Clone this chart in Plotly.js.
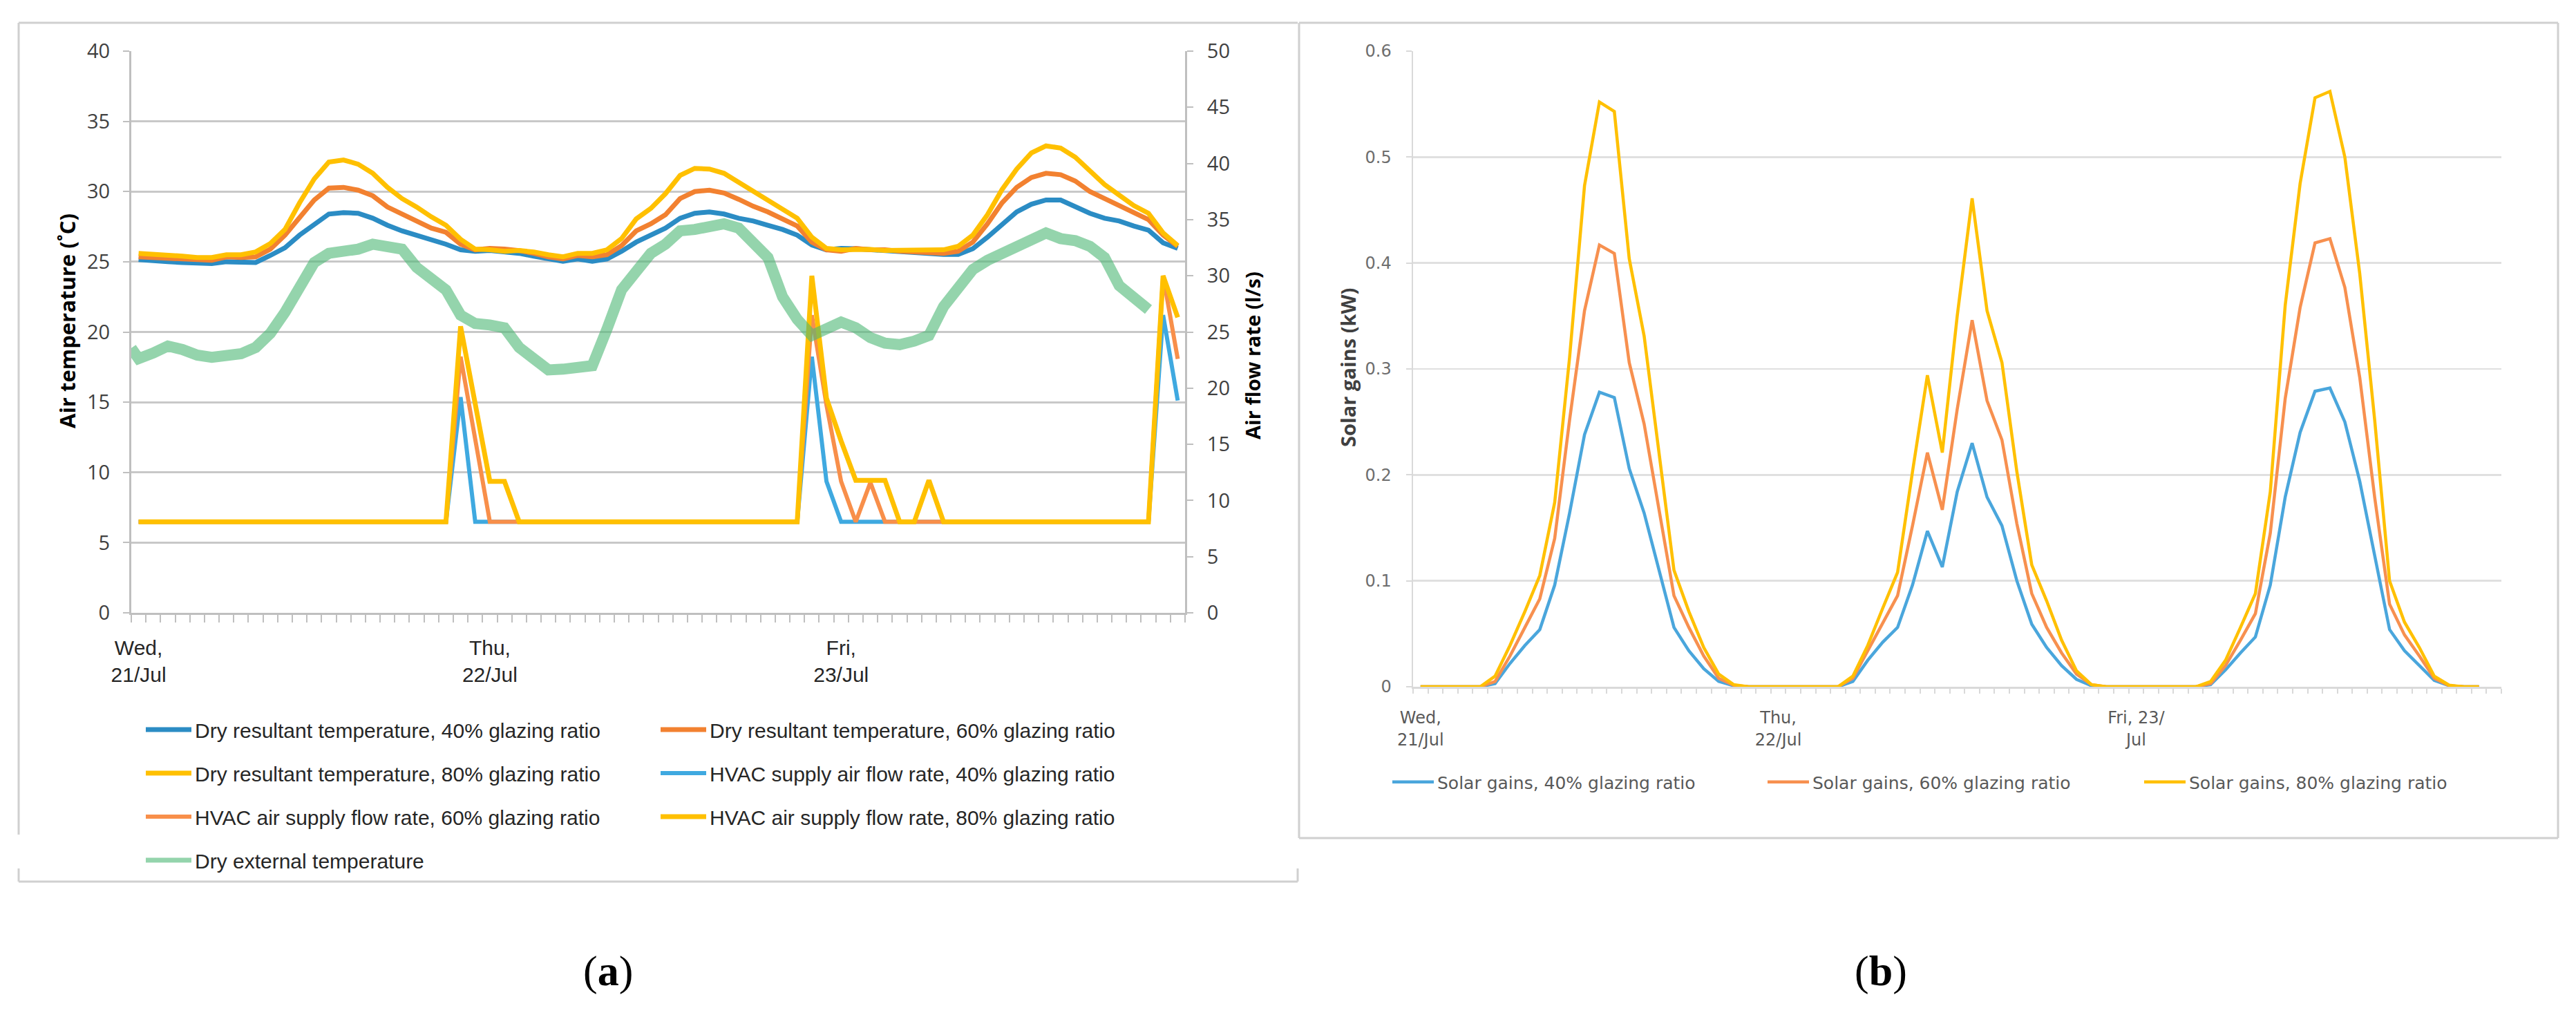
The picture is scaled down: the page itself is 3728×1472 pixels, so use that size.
<!DOCTYPE html>
<html>
<head>
<meta charset="utf-8">
<script src="https://cdn.plot.ly/plotly-3.0.1.min.js"></script>
<style>
  html, body { margin: 0; padding: 0; background: #fff; }
  #main { width: 3728px; height: 1472px; }
</style>
</head>
<body>
<div id="main"></div>
<script>
const W = 3728
const H = 1472

// x axis: one category per hour, labels on the first hour of each day
const dayStarts = [0, 24, 48]
const dayLabelsA = ['Wed,<br>21/Jul', 'Thu,<br>22/Jul', 'Fri,<br>23/Jul']
const dayLabelsB = ['Wed,<br>21/Jul', 'Thu,<br>22/Jul', 'Fri, 23/<br>Jul']

// (a) dry resultant temperature, degC
const dryRes40 = [
  25.15, 25.05, 25.0, 24.95, 24.9, 24.87, 25.0, 24.95, 24.95, 25.45, 26.0, 26.9, 27.7, 28.4, 28.5, 28.45, 28.1, 27.6, 27.2, 26.9, 26.6, 26.25, 25.85, 25.75,
  25.8, 25.7, 25.6, 25.4, 25.2, 25.03, 25.2, 25.03, 25.2, 25.75, 26.4, 26.9, 27.4, 28.1, 28.45, 28.55, 28.4, 28.1, 27.9, 27.6, 27.3, 26.9, 26.2, 25.85,
  25.95, 25.93, 25.85, 25.77, 25.68, 25.6, 25.6, 25.52, 25.52, 25.93, 26.75, 27.7, 28.55, 29.1, 29.4, 29.4, 28.95, 28.45, 28.1, 27.9, 27.55, 27.25, 26.35, 25.95
]
const dryRes60 = [
  25.35, 25.3, 25.25, 25.2, 25.1, 25.1, 25.35, 25.3, 25.35, 25.9, 26.9, 28.2, 29.4, 30.25, 30.3, 30.1, 29.7, 28.9, 28.4, 27.9, 27.4, 27.1, 26.25, 25.85,
  25.95, 25.9, 25.8, 25.6, 25.35, 25.2, 25.45, 25.35, 25.5, 26.15, 27.2, 27.7, 28.35, 29.5, 30.0, 30.1, 29.9, 29.45, 28.95, 28.55, 28.05, 27.55, 26.4, 25.85,
  25.75, 25.95, 25.85, 25.85, 25.75, 25.7, 25.68, 25.6, 25.75, 26.4, 27.7, 29.2, 30.3, 31.0, 31.3, 31.2, 30.75, 30.0, 29.5, 29.0, 28.45, 28.0, 26.9, 26.1
]
const dryRes80 = [
  25.6, 25.55, 25.5, 25.4, 25.3, 25.3, 25.5, 25.5, 25.7, 26.3, 27.3, 29.2, 30.9, 32.1, 32.25, 31.95, 31.3, 30.3, 29.5, 28.9, 28.2, 27.6, 26.6, 25.9,
  25.85, 25.75, 25.8, 25.7, 25.5, 25.35, 25.6, 25.6, 25.85, 26.65, 28.05, 28.8, 29.85, 31.15, 31.65, 31.6, 31.3, 30.65, 30.0, 29.35, 28.8, 28.1, 26.75, 25.95,
  25.85, 25.9, 25.88, 25.8, 25.8, 25.85, 25.85, 25.85, 26.1, 26.9, 28.35, 30.15, 31.6, 32.75, 33.25, 33.1, 32.45, 31.45, 30.5, 29.75, 29.0, 28.45, 27.05, 26.15
]

// (a) HVAC supply air flow rate, l/s
const hvac40 = [
  8.1, 8.1, 8.1, 8.1, 8.1, 8.1, 8.1, 8.1, 8.1, 8.1, 8.1, 8.1, 8.1, 8.1, 8.1, 8.1, 8.1, 8.1, 8.1, 8.1, 8.1, 8.1, 19.2, 8.1,
  8.1, 8.1, 8.1, 8.1, 8.1, 8.1, 8.1, 8.1, 8.1, 8.1, 8.1, 8.1, 8.1, 8.1, 8.1, 8.1, 8.1, 8.1, 8.1, 8.1, 8.1, 8.1, 22.8, 11.7,
  8.1, 8.1, 8.1, 8.1, 8.1, 8.1, 8.1, 8.1, 8.1, 8.1, 8.1, 8.1, 8.1, 8.1, 8.1, 8.1, 8.1, 8.1, 8.1, 8.1, 8.1, 8.1, 26.5, 18.9
]
const hvac60 = [
  8.1, 8.1, 8.1, 8.1, 8.1, 8.1, 8.1, 8.1, 8.1, 8.1, 8.1, 8.1, 8.1, 8.1, 8.1, 8.1, 8.1, 8.1, 8.1, 8.1, 8.1, 8.1, 22.8, 15.45,
  8.1, 8.1, 8.1, 8.1, 8.1, 8.1, 8.1, 8.1, 8.1, 8.1, 8.1, 8.1, 8.1, 8.1, 8.1, 8.1, 8.1, 8.1, 8.1, 8.1, 8.1, 8.1, 26.5, 18.5,
  11.7, 8.1, 11.6, 8.1, 8.1, 8.1, 8.1, 8.1, 8.1, 8.1, 8.1, 8.1, 8.1, 8.1, 8.1, 8.1, 8.1, 8.1, 8.1, 8.1, 8.1, 8.1, 30.0, 22.6
]
const hvac80 = [
  8.1, 8.1, 8.1, 8.1, 8.1, 8.1, 8.1, 8.1, 8.1, 8.1, 8.1, 8.1, 8.1, 8.1, 8.1, 8.1, 8.1, 8.1, 8.1, 8.1, 8.1, 8.1, 25.5, 18.7,
  11.7, 11.7, 8.1, 8.1, 8.1, 8.1, 8.1, 8.1, 8.1, 8.1, 8.1, 8.1, 8.1, 8.1, 8.1, 8.1, 8.1, 8.1, 8.1, 8.1, 8.1, 8.1, 30.0, 19.1,
  15.3, 11.8, 11.8, 11.8, 8.1, 8.1, 11.8, 8.1, 8.1, 8.1, 8.1, 8.1, 8.1, 8.1, 8.1, 8.1, 8.1, 8.1, 8.1, 8.1, 8.1, 8.1, 30.0, 26.3
]

// (a) dry external temperature, degC (first value sits on the axis, series stops early)
const extTemp = [
  18.85,
  18.1, 18.5, 19.0, 18.75, 18.35, 18.2, 18.35, 18.45, 18.9, 19.9, 21.4, 23.3, 24.95, 25.6, 25.7, 25.9, 26.25, 26.1, 25.9, 24.6, 23.8, 23.0, 21.2, 20.6,
  20.5, 20.3, 18.9, 18.1, 17.3, 17.35, 17.45, 17.6, 20.2, 23.0, 24.3, 25.6, 26.25, 27.2, 27.3, 27.55, 27.7, 27.4, 26.4, 25.3, 22.5, 20.9, 19.75, 20.2,
  20.7, 20.3, 19.6, 19.2, 19.1, 19.35, 19.75, 21.8, 23.2, 24.45, 25.1, 25.6, 26.2, 26.65, 27.05, 26.65, 26.5, 26.1, 25.3, 23.3, 22.35, 21.6
]

// (b) solar gains, kW
const solar40 = [
  0, 0, 0, 0, 0, 0.003, 0.022, 0.039, 0.054, 0.096, 0.164, 0.238, 0.278, 0.273, 0.206, 0.164, 0.110, 0.056, 0.034, 0.017, 0.005, 0.001, 0, 0,
  0, 0, 0, 0, 0, 0.005, 0.025, 0.042, 0.056, 0.096, 0.147, 0.113, 0.184, 0.230, 0.179, 0.152, 0.100, 0.059, 0.037, 0.020, 0.007, 0.001, 0, 0,
  0, 0, 0, 0, 0, 0.002, 0.016, 0.032, 0.047, 0.096, 0.179, 0.240, 0.279, 0.282, 0.250, 0.194, 0.125, 0.054, 0.034, 0.020, 0.006, 0.001, 0, 0
]
const solar60 = [
  0, 0, 0, 0, 0, 0.005, 0.029, 0.056, 0.083, 0.140, 0.252, 0.355, 0.417, 0.409, 0.306, 0.248, 0.169, 0.086, 0.056, 0.029, 0.008, 0.0015, 0, 0,
  0, 0, 0, 0, 0, 0.008, 0.034, 0.059, 0.086, 0.152, 0.221, 0.167, 0.262, 0.346, 0.270, 0.233, 0.154, 0.088, 0.056, 0.032, 0.012, 0.002, 0, 0,
  0, 0, 0, 0, 0, 0.003, 0.020, 0.044, 0.069, 0.145, 0.272, 0.358, 0.419, 0.423, 0.377, 0.292, 0.179, 0.078, 0.049, 0.029, 0.008, 0.001, 0, 0
]
const solar80 = [
  0, 0, 0, 0, 0, 0.010, 0.039, 0.071, 0.105, 0.174, 0.311, 0.473, 0.552, 0.543, 0.404, 0.331, 0.218, 0.110, 0.071, 0.037, 0.012, 0.002, 0, 0,
  0, 0, 0, 0, 0, 0.010, 0.039, 0.074, 0.108, 0.203, 0.294, 0.221, 0.350, 0.461, 0.355, 0.306, 0.203, 0.115, 0.081, 0.044, 0.015, 0.002, 0, 0,
  0, 0, 0, 0, 0, 0.005, 0.025, 0.056, 0.088, 0.184, 0.360, 0.475, 0.556, 0.562, 0.500, 0.390, 0.252, 0.100, 0.061, 0.037, 0.010, 0.0015, 0, 0
]

// points sit in the middle of each hourly category
const hours = dryRes40.map((v, i) => i + 0.5)
const extHours = extTemp.map((v, i) => (i === 0 ? 0 : i - 0.5))
const labelPos = dayStarts.map(d => d + 0.5)
const tickHoursA = Array.from({ length: 73 }, (v, i) => i)
const tickHoursB = Array.from({ length: 74 }, (v, i) => i)

const px = x => x / W
const py = y => 1 - y / H

const fontA = 'Liberation Sans, Arial, sans-serif'
const fontNum = 'Open Sans, sans-serif'
const fontB = 'DejaVu Sans, Verdana, sans-serif'
const extColor = 'rgba(76,184,117,0.6)'

const lineA = (name, y, color, width, yaxis, legend, group) => ({
  x: hours, y: y, type: 'scatter', mode: 'lines', name: name,
  xaxis: 'x', yaxis: yaxis, legend: legend, legendgroup: group,
  line: { color: color, width: width },
  hoverinfo: 'skip'
})

const lineB = (name, y, color, legend) => ({
  x: hours, y: y, type: 'scatter', mode: 'lines', name: name,
  xaxis: 'x2', yaxis: 'y4', legend: legend,
  line: { color: color, width: 4.5 },
  hoverinfo: 'skip'
})

const data = [
  lineA('Dry resultant temperature, 40% glazing ratio', dryRes40, '#2B8CC4', 7, 'y', 'legend', 'g1'),
  lineA('Dry resultant temperature, 60% glazing ratio', dryRes60, '#F28130', 7, 'y', 'legend2', 'g2'),
  lineA('Dry resultant temperature, 80% glazing ratio', dryRes80, '#FFC000', 7, 'y', 'legend', 'g3'),
  lineA('HVAC supply air flow rate, 40% glazing ratio', hvac40, '#3FA9E0', 6, 'y2', 'legend2', 'g4'),
  lineA('HVAC air supply flow rate, 60% glazing ratio', hvac60, '#F88F4A', 6, 'y2', 'legend', 'g5'),
  lineA('HVAC air supply flow rate, 80% glazing ratio', hvac80, '#FFC000', 7, 'y2', 'legend2', 'g6'),
  // the thick external line sits on its own overlay so it draws above the flow spikes
  {
    x: extHours, y: extTemp, type: 'scatter', mode: 'lines', name: 'Dry external temperature',
    xaxis: 'x', yaxis: 'y3', showlegend: false, legendgroup: 'g7',
    line: { color: extColor, width: 16 },
    hoverinfo: 'skip'
  },
  // legend entry only, drawn with a thinner sample like the original
  {
    x: [null], y: [null], type: 'scatter', mode: 'lines', name: 'Dry external temperature',
    xaxis: 'x', yaxis: 'y3', legend: 'legend', legendgroup: 'g7',
    line: { color: extColor, width: 7 },
    hoverinfo: 'skip'
  },
  lineB('Solar gains, 40% glazing ratio', solar40, '#4AA6DC', 'legend3'),
  lineB('Solar gains, 60% glazing ratio', solar60, '#F7904F', 'legend4'),
  lineB('Solar gains, 80% glazing ratio', solar80, '#FFC000', 'legend5')
]

const legendA = x => ({
  x: px(x), y: py(1030), xanchor: 'left', yanchor: 'top',
  orientation: 'v', bgcolor: 'rgba(0,0,0,0)', borderwidth: 0,
  font: { family: fontA, size: 30, color: '#262626' },
  itemwidth: 66, traceorder: 'grouped', tracegroupgap: 21
})
const legendB = x => ({
  x: px(x), y: py(1132), xanchor: 'left', yanchor: 'middle',
  orientation: 'h', bgcolor: 'rgba(0,0,0,0)', borderwidth: 0,
  font: { family: fontB, size: 25, color: '#595959' },
  itemwidth: 60
})

const frameColor = '#D0D0D0'
const seg = (x0, y0, x1, y1) => ({
  type: 'line', xref: 'paper', yref: 'paper',
  x0: px(x0), y0: py(y0), x1: px(x1), y1: py(y1),
  line: { color: frameColor, width: 3 }
})

const note = (text, x, y, size, color, family, angle) => ({
  text: text, xref: 'paper', yref: 'paper', x: px(x), y: py(y),
  xanchor: 'center', yanchor: 'middle', textangle: angle || 0, showarrow: false,
  font: { family: family, size: size, color: color }
})

const layout = {
  width: W, height: H,
  margin: { l: 0, r: 0, t: 0, b: 0, pad: 0 },
  paper_bgcolor: '#fff', plot_bgcolor: 'rgba(0,0,0,0)',
  showlegend: true,
  xaxis: {
    domain: [px(190), px(1715)], range: [0, 72], anchor: 'y',
    tickmode: 'array', tickvals: labelPos, ticktext: dayLabelsA,
    ticks: '', ticklabelstandoff: 22,
    tickfont: { family: fontA, size: 30, color: '#262626' },
    showgrid: false, zeroline: false,
    showline: true, linecolor: '#BFBFBF', linewidth: 3,
    minor: { tickmode: 'array', tickvals: tickHoursA, ticks: 'outside', ticklen: 11, tickwidth: 2, tickcolor: '#BFBFBF', showgrid: false }
  },
  yaxis: {
    domain: [py(887), py(74)], range: [0, 40], anchor: 'x',
    tickmode: 'linear', tick0: 0, dtick: 5,
    ticks: 'outside', ticklen: 9, tickwidth: 2, tickcolor: '#BFBFBF', ticklabelstandoff: 13,
    tickfont: { family: fontNum, size: 29, color: '#404040' },
    showgrid: true, gridcolor: '#C8C8C8', gridwidth: 3, zeroline: false,
    showline: true, linecolor: '#BFBFBF', linewidth: 3
  },
  yaxis2: {
    overlaying: 'y', side: 'right', anchor: 'x', range: [0, 50],
    tickmode: 'linear', tick0: 0, dtick: 5,
    ticks: 'outside', ticklen: 9, tickwidth: 2, tickcolor: '#BFBFBF', ticklabelstandoff: 14,
    tickfont: { family: fontNum, size: 29, color: '#404040' },
    showgrid: false, zeroline: false,
    showline: true, linecolor: '#BFBFBF', linewidth: 3
  },
  yaxis3: { overlaying: 'y', anchor: 'x', range: [0, 40], visible: false },
  xaxis2: {
    domain: [px(2045), px(3620)], range: [0, 73], anchor: 'y4',
    tickmode: 'array', tickvals: labelPos, ticktext: dayLabelsB,
    ticks: '', ticklabelstandoff: 22,
    tickfont: { family: fontB, size: 24, color: '#595959' },
    showgrid: false, zeroline: false,
    showline: true, linecolor: '#D9D9D9', linewidth: 2.5,
    minor: { tickmode: 'array', tickvals: tickHoursB, ticks: 'outside', ticklen: 7, tickwidth: 2, tickcolor: '#D9D9D9', showgrid: false }
  },
  yaxis4: {
    domain: [py(994), py(74)], range: [0, 0.6], anchor: 'x2',
    tickmode: 'linear', tick0: 0, dtick: 0.1,
    ticks: 'outside', ticklen: 8, tickwidth: 2, tickcolor: '#D9D9D9', ticklabelstandoff: 16,
    tickfont: { family: fontB, size: 24, color: '#6E6E6E' },
    showgrid: true, gridcolor: '#E0E0E0', gridwidth: 2.5, zeroline: false,
    showline: true, linecolor: '#D9D9D9', linewidth: 2.5
  },
  legend: legendA(206),
  legend2: legendA(951),
  legend3: legendB(2010),
  legend4: legendB(2553),
  legend5: legendB(3098),
  shapes: [
    // frame round panel (a), broken where the last legend row sits
    seg(27, 33, 1878, 33),
    seg(27, 33, 27, 1208),
    seg(27, 1257, 27, 1276),
    seg(1878, 1257, 1878, 1276),
    seg(27, 1276, 1878, 1276),
    // frame round panel (b)
    seg(1880, 33, 3702, 33),
    seg(1880, 33, 1880, 1213),
    seg(3702, 33, 3702, 1213),
    seg(1880, 1213, 3702, 1213)
  ],
  annotations: [
    note('<b>Air temperature (˚C)</b>', 97, 465, 31, '#000', fontNum, -90),
    note('<b>Air flow rate (l/s)</b>', 1812, 515, 29, '#000', fontNum, -90),
    note('<b>Solar gains (kW)</b>', 1950, 532, 29, '#404040', fontNum, -90),
    note('(<b>a</b>)', 880, 1405, 62, '#000', 'Liberation Serif, serif'),
    note('(<b>b</b>)', 2722, 1405, 62, '#000', 'Liberation Serif, serif')
  ]
}

Plotly.newPlot('main', data, layout, { staticPlot: true, displayModeBar: false })
</script>
</body>
</html>
